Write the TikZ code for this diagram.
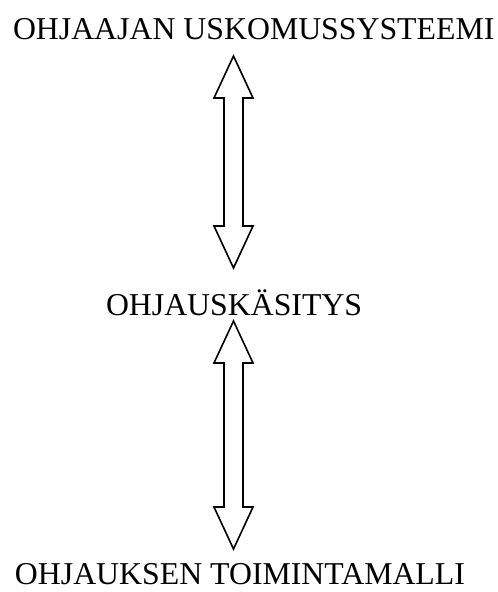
\documentclass[tikz,border=0pt]{standalone}
\usepackage{fontspec}
\setmainfont{Liberation Serif}
\usetikzlibrary{calc}
\tikzset{
  lbl/.style={anchor=base west, inner sep=0pt, outer sep=0pt, font=\fontsize{31.8}{38}\selectfont},
  blockarr/.style={draw=black, line width=1.6pt, line join=miter, fill=white}
}
\newcommand\dblockarrow[2]{%
  \draw[blockarr] (#1) -- ($(#1)+(19.5,-42)$) -- ($(#1)+(9.5,-42)$) -- ($(#2)+(9.5,42)$) -- ($(#2)+(19.5,42)$) -- (#2)
    -- ($(#2)+(-19.5,42)$) -- ($(#2)+(-9.5,42)$) -- ($(#1)+(-9.5,-42)$) -- ($(#1)+(-19.5,-42)$) -- cycle;}
\begin{document}
\begin{tikzpicture}[x=1pt,y=1pt]
\useasboundingbox (0,0) rectangle (498,-592);
\node[lbl] (top) at (13,-39.5) {OHJAAJAN USKOMUSSYSTEEMI};
\node[lbl] (mid) at (106,-315) {OHJAUSKÄSITYS};
\node[lbl] (bot) at (15,-584.5) {OHJAUKSEN TOIMINTAMALLI};
\coordinate (a1t) at (233.5,-56);
\coordinate (a1b) at (233.5,-268);
\coordinate (a2t) at (233.5,-321);
\coordinate (a2b) at (233.5,-549);
\dblockarrow{a1t}{a1b}
\dblockarrow{a2t}{a2b}
\end{tikzpicture}
\end{document}
